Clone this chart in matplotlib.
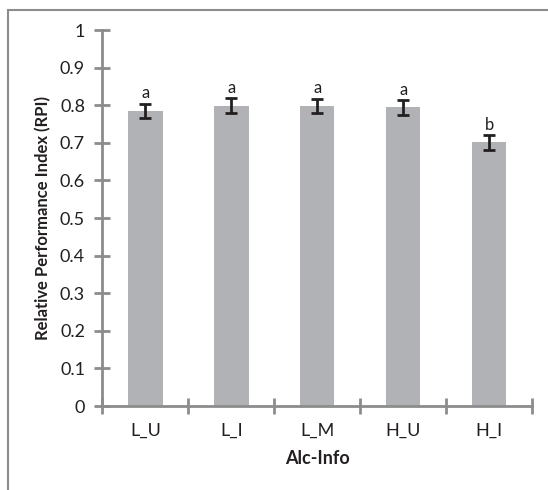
import matplotlib
matplotlib.use("Agg")
import matplotlib.pyplot as plt
from matplotlib.patches import Rectangle

categories = ["L_U", "L_I", "L_M", "H_U", "H_I"]
values = [0.785, 0.799, 0.797, 0.794, 0.701]
errors = [0.019, 0.019, 0.019, 0.019, 0.019]
letters = ["a", "a", "a", "a", "b"]
yticks = [0, 0.1, 0.2, 0.3, 0.4, 0.5, 0.6, 0.7, 0.8, 0.9, 1]
ytick_labels = ["0", "0.1", "0.2", "0.3", "0.4", "0.5", "0.6", "0.7", "0.8", "0.9", "1"]

plt.rcParams['font.family'] = ['Lato', 'DejaVu Sans']

W, H = 548, 490
fig = plt.figure(figsize=(W / 100, H / 100), dpi=100)
ax = fig.add_axes([102.4 / W, 1 - 406 / H, (532.2 - 102.4) / W, (406 - 30) / H])

axis_col = "#8c8c8c"
text_col = "#231f20"
x = list(range(len(categories)))
ax.bar(x, values, width=0.4, color="#b1b2b6", edgecolor="none", zorder=2)
ax.errorbar(x, values, yerr=errors, fmt="none", ecolor=text_col,
            elinewidth=2, capsize=4, capthick=2, zorder=3)
for xi, v, e, l in zip(x, values, errors, letters):
    ax.annotate(l, (xi, v + e), xytext=(0, 2), textcoords="offset points",
                ha="center", va="bottom", fontsize=12, color=text_col)

ax.set_xlim(-0.5, len(categories) - 0.5)
ax.set_ylim(0, 1)
ax.set_yticks(yticks)
ax.set_yticklabels(ytick_labels)
ax.set_xticks(x)
ax.set_xticklabels(categories)
ax.set_xticks([i - 0.5 for i in range(len(categories) + 1)], minor=True)
ax.tick_params(axis="x", which="major", length=0, pad=12, labelsize=13, labelcolor=text_col)
ax.tick_params(axis="x", which="minor", direction="inout", length=12, width=2, color=axis_col)
ax.tick_params(axis="y", direction="inout", length=11, width=2, color=axis_col,
               pad=7, labelsize=13, labelcolor=text_col)

for s in ["top", "right"]:
    ax.spines[s].set_visible(False)
for s in ["left", "bottom"]:
    ax.spines[s].set_color(axis_col)
    ax.spines[s].set_linewidth(2)

ax.set_xlabel("Alc-Info", fontsize=13, fontweight="bold", color=text_col, labelpad=8)
ax.set_ylabel("Relative Performance Index (RPI)", fontsize=12, fontweight="bold",
              color=text_col, labelpad=6)

fig.patches.append(Rectangle((8 / W, -0.1), 1.2, 1.1 - 10 / H, transform=fig.transFigure,
                             fill=False, edgecolor="#8c8c8c", linewidth=1.5))

fig.savefig("out.png", dpi=100)
